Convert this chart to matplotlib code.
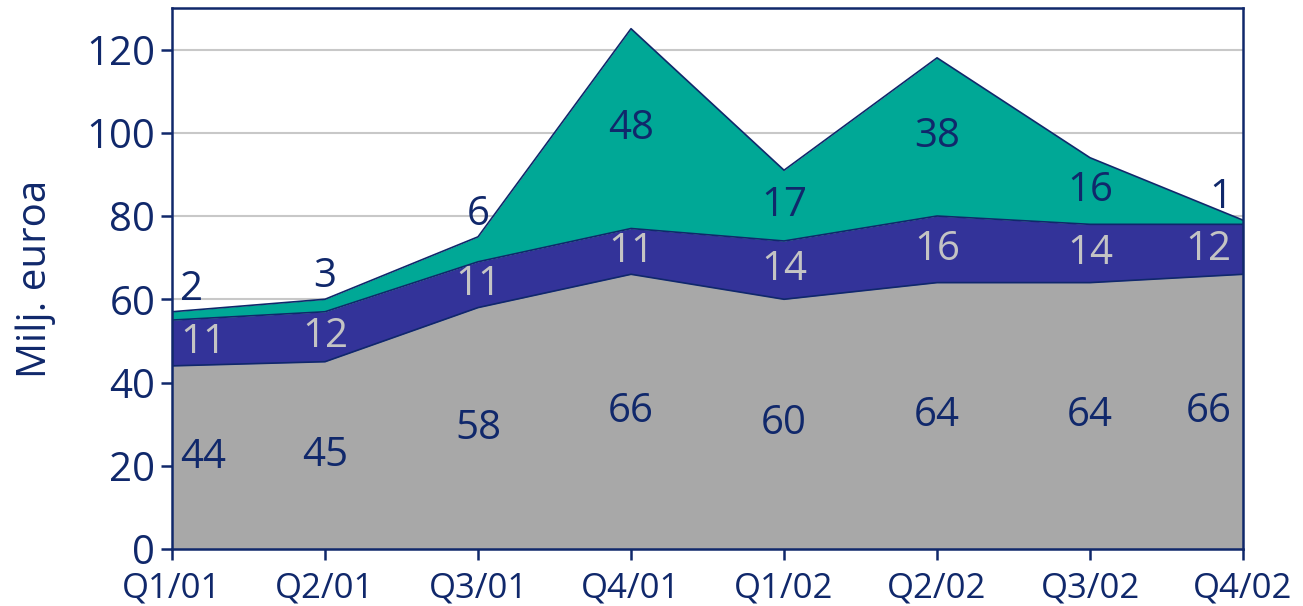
import numpy as np
import matplotlib
matplotlib.use("Agg")
import matplotlib.pyplot as plt

# data
quarters = ["Q1/01", "Q2/01", "Q3/01", "Q4/01", "Q1/02", "Q2/02", "Q3/02", "Q4/02"]
base = [44, 45, 58, 66, 60, 64, 64, 66]
middle = [11, 12, 11, 11, 14, 16, 14, 12]
top = [2, 3, 6, 48, 17, 38, 16, 1]

navy = "#10286b"
c_base = "#a8a8a8"
c_mid = "#333399"
c_top = "#00a896"

plt.rcParams['font.family'] = ['Open Sans', 'DejaVu Sans']
fs = 29

fig = plt.figure(figsize=(13.03, 6.06), dpi=100)
ax = fig.add_axes([0.132, 0.094, 0.822, 0.893])

x = np.arange(len(quarters))
b = np.array(base)
m = np.array(middle)
t = np.array(top)

ax.fill_between(x, 0, b, color=c_base, lw=0)
ax.fill_between(x, b, b + m, color=c_mid, lw=0)
ax.fill_between(x, b + m, b + m + t, color=c_top, lw=0)
ax.plot(x, b, color=navy, lw=1.2)
ax.plot(x, b + m, color=navy, lw=1.2)
ax.plot(x, b + m + t, color=navy, lw=1.2)

ax.set_xlim(0, len(quarters) - 1)
ax.set_ylim(0, 130)
ax.set_yticks(range(0, 121, 20))
ax.set_xticks(x)
ax.set_xticklabels(quarters)
ax.yaxis.grid(True, color="#c8c8c8", lw=1.5)
ax.set_axisbelow(True)

for s in ax.spines.values():
    s.set_color(navy)
    s.set_linewidth(1.8)
ax.tick_params(axis="both", colors=navy, length=8, width=1.8, direction="out")
ax.tick_params(axis="y", labelsize=fs, pad=4)
ax.tick_params(axis="x", labelsize=25, pad=8)
ax.set_ylabel("Milj. euroa", color=navy, fontsize=fs, labelpad=22)

n = len(quarters)
for i in range(n):
    if i == 0:
        ha, dx = "left", 6
    elif i == n - 1:
        ha, dx = "right", -8
    else:
        ha, dx = "center", 0
    ax.annotate(str(base[i]), (x[i], base[i] / 2), xytext=(dx, 0), textcoords="offset points",
                ha=ha, va="center", color=navy, fontsize=fs)
    ax.annotate(str(middle[i]), (x[i], base[i] + middle[i] / 2), xytext=(dx, 0), textcoords="offset points",
                ha=ha, va="center", color="#c4c4c4", fontsize=fs)
    tot = base[i] + middle[i] + top[i]
    if top[i] >= 10:
        ty, dy = base[i] + middle[i] + top[i] / 2, 0
    else:
        ty, dy = tot, 16
    ax.annotate(str(top[i]), (x[i], ty), xytext=(dx, dy), textcoords="offset points",
                ha=ha, va="center", color=navy, fontsize=fs)

fig.savefig("out.png", dpi=100)
